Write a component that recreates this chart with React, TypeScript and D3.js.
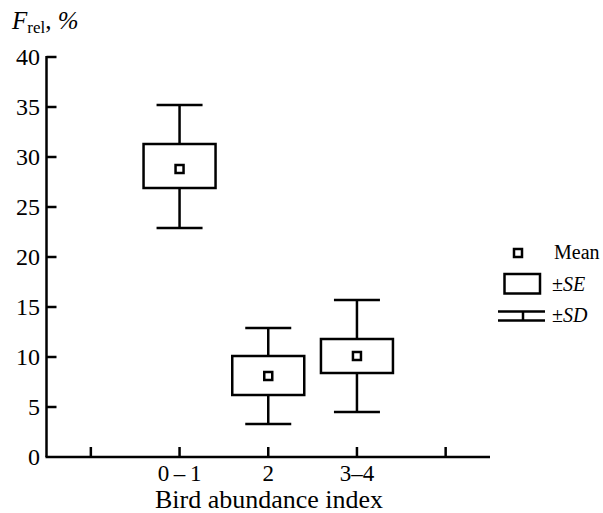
import React from 'react'
import * as d3 from 'd3'

const categories = ['0\u2009\u2013\u20091', '2', '3\u20134']
const catPositions = [2, 3, 4]
const xTickPositions = [1, 2, 3, 4, 5]
const means = [28.8, 8.1, 10.1]
const seLow = [26.9, 6.2, 8.4]
const seHigh = [31.3, 10.1, 11.8]
const sdLow = [22.9, 3.3, 4.5]
const sdHigh = [35.2, 12.9, 15.7]
const yTicks = [0, 5, 10, 15, 20, 25, 30, 35, 40]

const W = 603
const H = 513
const FONT = '"Liberation Serif", "Times New Roman", serif'
const SW = 2.5

export default function App() {
  const x = d3.scaleLinear().domain([0.5, 5.5]).range([46.5, 490])
  const y = d3.scaleLinear().domain([0, 40]).range([457, 57])

  const boxW = 72
  const capW = 46
  const mk = 8

  return (
    <svg
      width={W}
      height={H}
      style={{ position: 'absolute', left: 0, top: 0, background: '#fff' }}
      fontFamily={FONT}
    >
      <rect width={W} height={H} fill="#fff" />

      {/* title */}
      <text x={12} y={29} fontSize={25} fill="#000">
        <tspan fontStyle="italic">F</tspan>
        <tspan fontSize={17} dy={4}>rel</tspan>
        <tspan dy={-4}>, </tspan>
        <tspan fontStyle="italic">%</tspan>
      </text>

      {/* y axis */}
      <line x1={x(0.5)} x2={x(0.5)} y1={y(40) - 1} y2={y(0)} stroke="#000" strokeWidth={SW} />
      {yTicks.map(t => (
        <g key={t}>
          {t > 0 && (
            <line x1={x(0.5)} x2={x(0.5) + 10} y1={y(t)} y2={y(t)} stroke="#000" strokeWidth={SW} />
          )}
          <text x={40} y={y(t)} dy="0.35em" textAnchor="end" fontSize={24} fill="#000">
            {t}
          </text>
        </g>
      ))}

      {/* x axis */}
      <line x1={x(0.5) - 1} x2={x(5.5)} y1={y(0)} y2={y(0)} stroke="#000" strokeWidth={SW} />
      {xTickPositions.map(p => (
        <line key={p} x1={x(p)} x2={x(p)} y1={y(0)} y2={y(0) - 10} stroke="#000" strokeWidth={SW} />
      ))}
      {categories.map((c, i) => (
        <text key={c} x={x(catPositions[i])} y={481} textAnchor="middle" fontSize={23} fill="#000">
          {c}
        </text>
      ))}
      <text x={269} y={508} textAnchor="middle" fontSize={26} fill="#000">
        Bird abundance index
      </text>

      {/* boxes */}
      {categories.map((c, i) => {
        const cx = x(catPositions[i])
        return (
          <g key={c} stroke="#000" strokeWidth={SW} fill="none">
            <line x1={cx} x2={cx} y1={y(sdHigh[i])} y2={y(seHigh[i])} />
            <line x1={cx} x2={cx} y1={y(seLow[i])} y2={y(sdLow[i])} />
            <line x1={cx - capW / 2} x2={cx + capW / 2} y1={y(sdHigh[i])} y2={y(sdHigh[i])} />
            <line x1={cx - capW / 2} x2={cx + capW / 2} y1={y(sdLow[i])} y2={y(sdLow[i])} />
            <rect
              x={cx - boxW / 2}
              y={y(seHigh[i])}
              width={boxW}
              height={y(seLow[i]) - y(seHigh[i])}
            />
            <rect x={cx - mk / 2} y={y(means[i]) - mk / 2} width={mk} height={mk} fill="#fff" />
          </g>
        )
      })}

      {/* legend */}
      <g stroke="#000" strokeWidth={SW} fill="none">
        <rect x={518 - mk / 2} y={253 - mk / 2} width={mk} height={mk} />
        <rect x={504.5} y={274} width={35.5} height={19.5} />
        <line x1={498} x2={545} y1={311.5} y2={311.5} />
        <line x1={498} x2={545} y1={320.5} y2={320.5} />
        <line x1={523} x2={523} y1={311.5} y2={320.5} />
      </g>
      <g fontSize={20} fill="#000">
        <text x={554} y={259}>Mean</text>
        <text x={552} y={291}>
          ±<tspan fontStyle="italic">SE</tspan>
        </text>
        <text x={552} y={322}>
          ±<tspan fontStyle="italic">SD</tspan>
        </text>
      </g>
    </svg>
  )
}
